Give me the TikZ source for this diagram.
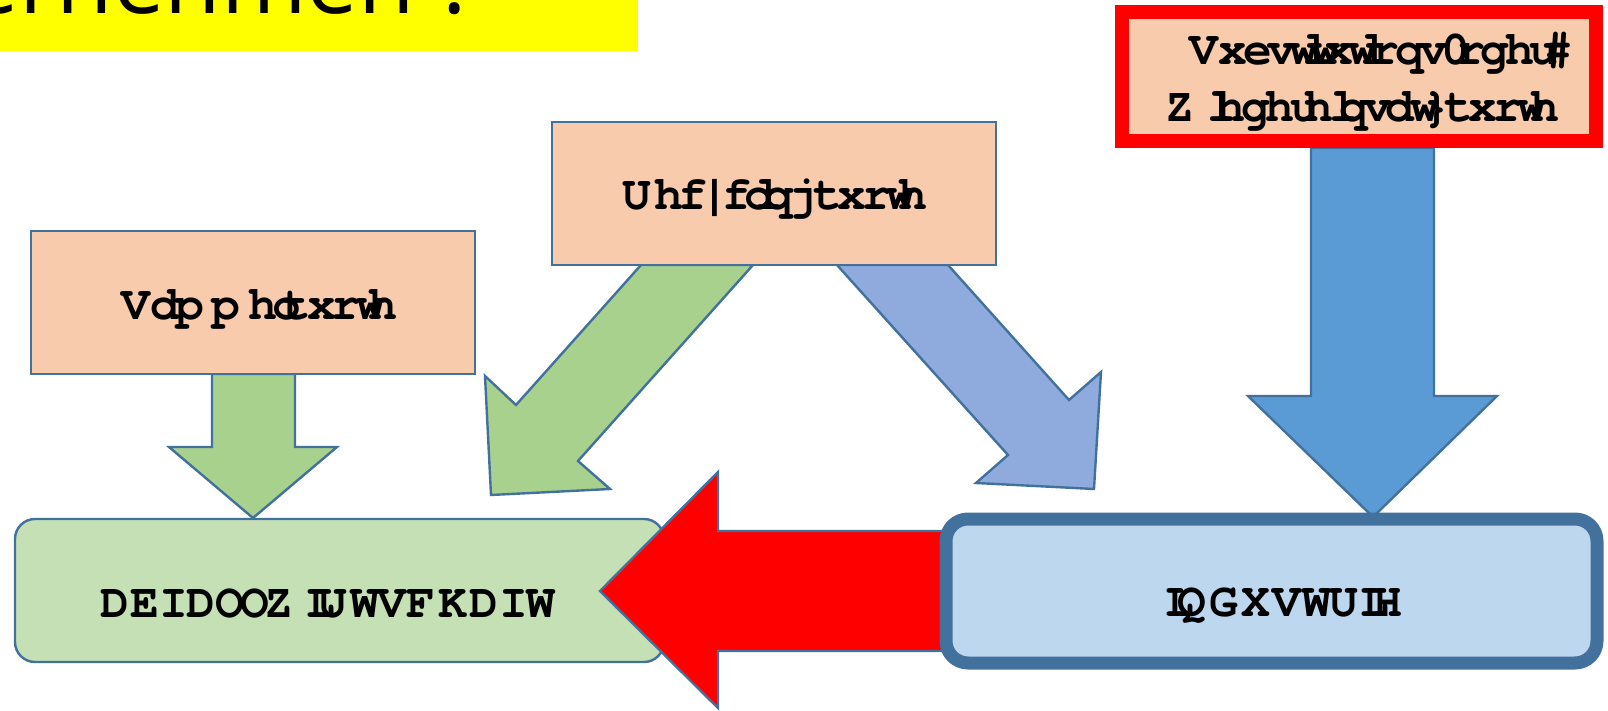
\documentclass[tikz,border=0pt]{standalone}
\usepackage{fontspec}
\newfontfamily\origfont{Liberation Sans}
\newfontfamily\glyphfont{texgyrecursor-bold.otf}
\newfontfamily\titlefont{Open Sans}
\definecolor{peach}{RGB}{248,203,173}
\definecolor{greenarrow}{RGB}{169,209,142}
\definecolor{greenbox}{RGB}{197,224,180}
\definecolor{bluediag}{RGB}{143,170,220}
\definecolor{bluedown}{RGB}{91,155,213}
\definecolor{bluebox}{RGB}{189,215,238}
\definecolor{outline}{RGB}{65,113,156}
\definecolor{pured}{RGB}{255,0,0}
\definecolor{puyellow}{RGB}{255,255,0}
\newlength\glw
\newcommand\gl[2]{\settowidth\glw{\origfont\fontsize{22pt}{26pt}\selectfont #1}\makebox[\glw][l]{\glyphfont\fontsize{24pt}{26pt}\selectfont #2}}
\newcommand\shiftstr[1]{\ifx#1\relax\else\gl{#1}{\char\numexpr`#1+3\relax}\expandafter\shiftstr\fi}
\begin{document}
\begin{tikzpicture}[x=0.5pt,y=-0.5pt,
  shapeline/.style={draw=outline, line width=1.2pt, line join=miter},
  peachbox/.style={rectangle, fill=peach, draw=outline, line width=1.2pt, inner sep=0pt},
  lbl/.style={inner sep=0pt, anchor=base, font=\fontsize{22pt}{26pt}\selectfont}]
\useasboundingbox (0,0) rectangle (1608,711);
\clip (0,0) rectangle (1608,711);
% title bar
\fill[puyellow] (-10,-10) rectangle (638,51);
\node[anchor=base west, inner sep=0pt, font=\titlefont\fontsize{46pt}{50pt}\selectfont] (title) at (-33,14) {ernehmen ?};
% arrows behind boxes
\draw[shapeline, fill=bluedown] (1311,148) -- (1434,148) -- (1434,396) -- (1497,396) -- (1373,517) -- (1248,396) -- (1311,396) -- cycle;
\draw[shapeline, fill=greenarrow] (212,374) -- (295,374) -- (295,447) -- (337,447) -- (253,518) -- (169,447) -- (212,447) -- cycle;
\draw[shapeline, fill=greenarrow] (641,265) -- (753,265) -- (578,461) -- (610,489) -- (491,495) -- (485,376) -- (516,405) -- cycle;
\draw[shapeline, fill=bluediag] (837,265) -- (948,265) -- (1069,400) -- (1101,372) -- (1094,489) -- (976,483) -- (1008,455) -- cycle;
% boxes
\node[peachbox, minimum width=222pt, minimum height=71.5pt] (recy) at (774,193.5) {};
\node[peachbox, minimum width=222pt, minimum height=71.5pt] (samm) at (253,302.5) {};
\node[rectangle, fill=peach, draw=pured, line width=7pt, inner sep=0pt, minimum width=237pt, minimum height=64.5pt] (subst) at (1359,76.5) {};
\node[rectangle, rounded corners=10pt, fill=greenbox, draw=outline, line width=1.2pt, inner sep=0pt, minimum width=324.5pt, minimum height=71.5pt] (abf) at (339.5,590.5) {};
% red arrow
\draw[shapeline, fill=pured] (600,591) -- (718,472) -- (718,531) -- (946,531) -- (946,651) -- (718,651) -- (718,708) -- cycle;
\node[rectangle, rounded corners=11pt, fill=bluebox, draw=outline, line width=6.5pt, inner sep=0pt, minimum width=325.5pt, minimum height=72pt] (ind) at (1271.5,591) {};
% labels
\node[lbl] (recyt) at (773,210) {\shiftstr Recyclingquote\relax};
\node[lbl] (sammt) at (257,320) {\shiftstr Sammelquote\relax};
\node[lbl] (subt1) at (1373,65) {\shiftstr Substitutions-oder\relax\gl{\ }{\#}};
\node[lbl] (subt2) at (1360,122) {\shiftstr Wiedereinsatzquote\relax};
\node[lbl] (abft) at (327,617) {\shiftstr ABFALLWIRTSCHAFT\relax};
\node[lbl] (indt) at (1284,616) {\shiftstr INDUSTRIE\relax};
\end{tikzpicture}
\end{document}
